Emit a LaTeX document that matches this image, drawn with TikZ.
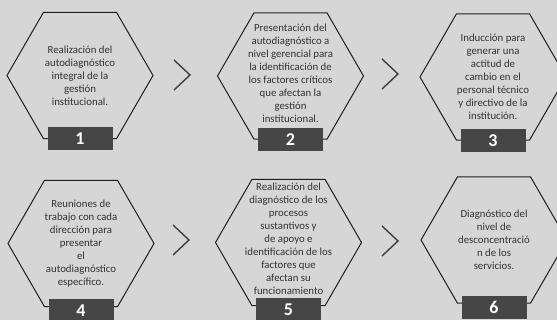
\documentclass[tikz,border=0pt]{standalone}
\usepackage{fontspec}
\setmainfont{Carlito}
\usetikzlibrary{shapes.geometric}
\definecolor{paperc}{RGB}{214,214,214}
\definecolor{edgec}{RGB}{30,30,30}
\definecolor{tabc}{RGB}{70,70,70}
\definecolor{txtc}{RGB}{50,50,50}
\tikzset{
  hexa/.style={regular polygon,regular polygon sides=6,minimum size=146pt,inner sep=0pt,draw=edgec,line width=1pt},
  numtab/.style={fill=tabc,minimum width=65pt,minimum height=23pt,inner sep=0pt,text=white,font=\fontsize{18}{18}\selectfont\bfseries},
  steptext/.style={text=txtc,align=center,inner sep=0pt,font=\fontsize{10.8}{13}\selectfont},
  chevron/.style={draw=edgec!85,line width=1.4pt}
}

\begin{document}
\begin{tikzpicture}[x=1pt,y=1pt]
\useasboundingbox[fill=paperc] (0,0) rectangle (557,320);
% hexagons with their number tabs
\foreach \i/\cx/\cy/\dy in {1/80/244.5/12,2/290.5/244/12,3/493/243/12,4/81/76.5/8,5/288.5/77.5/8,6/494/80/8}{
  \node[hexa] (h\i) at (\cx,\cy) {};
  \node[numtab,anchor=north] (n\i) at ([yshift=\dy]h\i.south) {\i};
}
% texts
\node[steptext] (t1) at (h1) {Realización del\\autodiagnóstico\\integral de la\\gestión\\institucional.};
\node[steptext] (t2) at ([yshift=3]h2) {Presentación del\\autodiagnóstico a\\nivel gerencial para\\la identificación de\\los factores críticos\\que afectan la\\gestión\\institucional.};
\node[steptext] (t3) at (h3) {Inducción para\\generar una\\actitud de\\cambio en el\\personal técnico\\y directivo de la\\institución.};
\node[steptext] (t4) at (h4) {Reuniones de\\trabajo con cada\\dirección para\\presentar\\el\\autodiagnóstico\\específico.};
\node[steptext] (t5) at ([yshift=4]h5) {Realización del\\diagnóstico de los\\procesos\\sustantivos y\\de apoyo e\\identificación de los\\factores que\\afectan su\\funcionamiento};
\node[steptext] (t6) at (h6) {Diagnóstico del\\nivel de\\desconcentració\\n de los\\servicios.};
% chevrons between the steps
\foreach \n/\vx/\vy in {1/190/245,2/398/246,3/189/80,4/398/79}{
  \coordinate (v\n) at (\vx,\vy);
  \draw[chevron] ([shift={(-16,15)}]v\n) -- (v\n) -- ([shift={(-16,-15)}]v\n);
}
\end{tikzpicture}
\end{document}
